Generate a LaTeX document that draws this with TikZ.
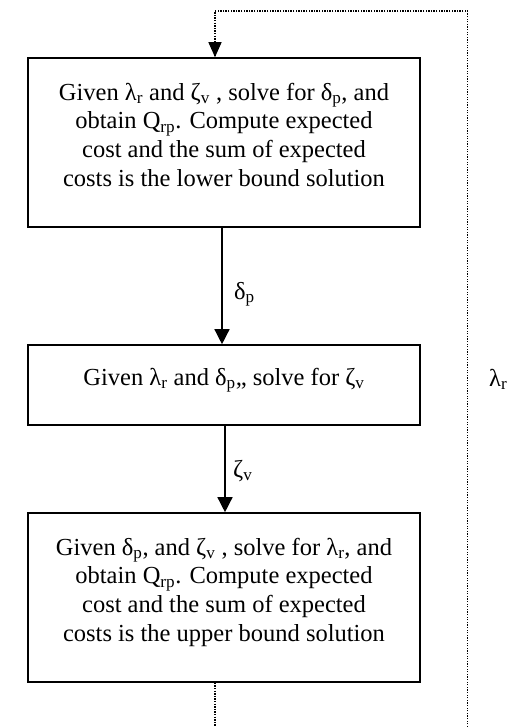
\documentclass[tikz,border=0pt]{standalone}
\usepackage{fontspec}
\setmainfont{Liberation Serif}
\usetikzlibrary{arrows.meta}
\newcommand{\sbs}[1]{\textsubscript{#1}}
\tikzset{
  box/.style={draw, line width=1.6pt, inner sep=0pt},
  txt/.style={align=center, inner sep=0pt, font=\fontsize{24.5}{28.6}\selectfont},
  arr/.style={line width=1.4pt, -{Triangle[length=15pt,width=15pt]}},
  dotline/.style={line width=1.4pt, dash pattern=on 1.3pt off 1.3pt},
  lbl/.style={font=\fontsize{24.5}{28.6}\selectfont, inner sep=0pt, anchor=base west}
}
\begin{document}
\begin{tikzpicture}[x=1pt,y=1pt]
\useasboundingbox (0,0) rectangle (509,-727);
% boxes
\node[box, minimum width=392pt, minimum height=169pt] (b1) at (224,-142.5) {};
\node[box, minimum width=392pt, minimum height=80pt] (b2) at (224,-385) {};
\node[box, minimum width=392pt, minimum height=169pt] (b3) at (224,-597.5) {};
% texts
\node[txt, anchor=north] (t1) at (224,-80) {\strut Given λ\sbs{r} and ζ\sbs{v} , solve for δ\sbs{p}, and\\obtain Q\sbs{rp}. Compute expected\\cost and the sum of expected\\costs is the lower bound solution\strut};
\node[txt, anchor=base] (t2) at (224,-385) {Given λ\sbs{r} and δ\sbs{p},, solve for ζ\sbs{v}};
\node[txt, anchor=north] (t3) at (224,-535) {\strut Given δ\sbs{p}, and ζ\sbs{v} , solve for λ\sbs{r}, and\\obtain Q\sbs{rp}. Compute expected\\cost and the sum of expected\\costs is the upper bound solution\strut};
% helper coordinates
\coordinate (c1) at (222,0);
\coordinate (c2) at (225,0);
\coordinate (cl) at (215,0);
\coordinate (tl) at (215,-11);
\coordinate (tr) at (467.5,-11);
\coordinate (br) at (467.5,-727);
\coordinate (bl) at (215,-727);
% solid arrows
\draw[arr] (b1.south -| c1) -- (b2.north -| c1);
\draw[arr] (b2.south -| c2) -- (b3.north -| c2);
% labels
\node[lbl] (l1) at (234,-299) {δ\sbs{p}};
\node[lbl] (l2) at (233,-477) {ζ\sbs{v}};
\node[lbl] (l3) at (489,-386) {λ\sbs{r}};
% dotted feedback loop
\draw[dotline] (b3.south -| cl) -- (bl);
\draw[dotline] (br) -- (tr) -- (tl) -- ([yshift=15pt]b1.north -| cl);
\draw[line width=1.4pt, -{Triangle[length=15pt,width=13pt]}, shorten <=14pt] ([yshift=15pt]b1.north -| cl) -- (b1.north -| cl);
\end{tikzpicture}
\end{document}
